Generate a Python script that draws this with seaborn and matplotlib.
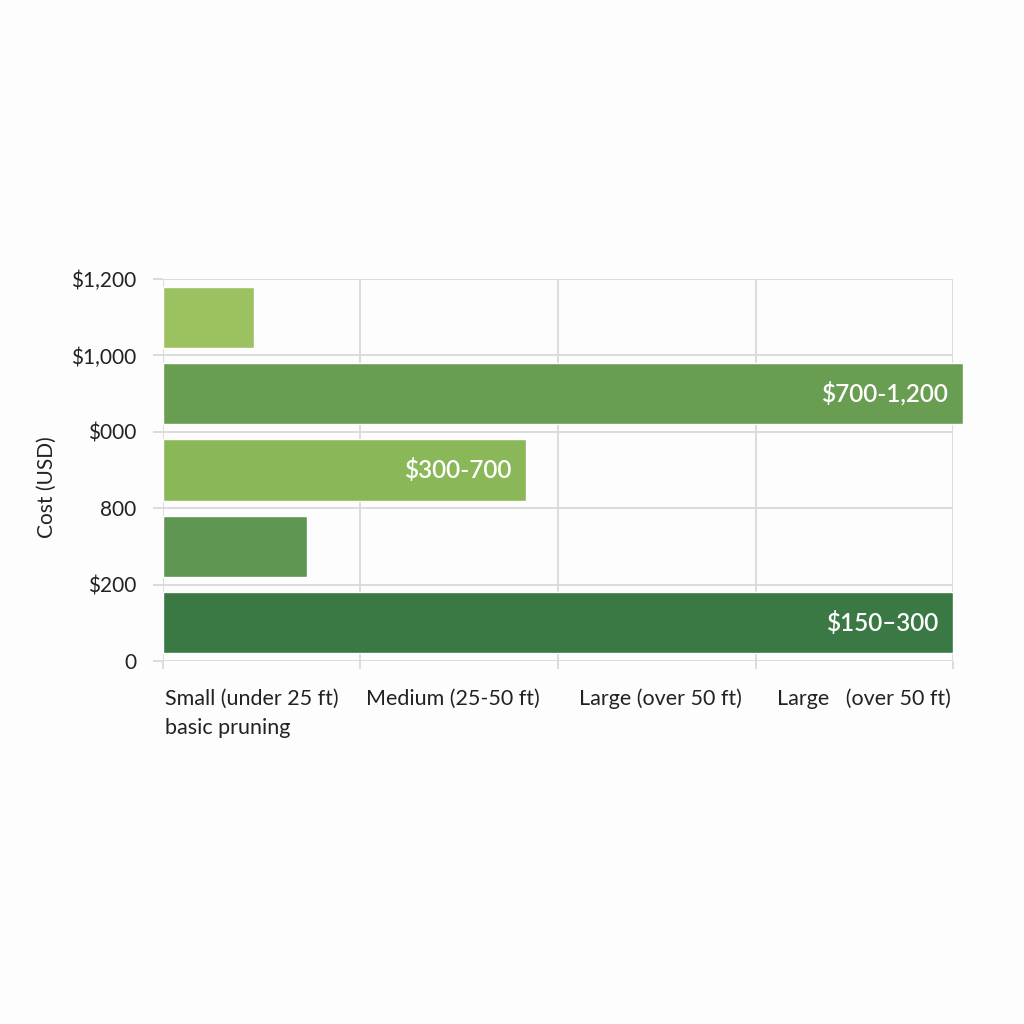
import matplotlib
matplotlib.use("Agg")
import matplotlib.pyplot as plt
import seaborn as sns
import pandas as pd

# bars, bottom to top
bar_ids = ["b1", "b2", "b3", "b4", "b5"]
bar_pos = [0.5, 1.5, 2.5, 3.5, 4.5]
bar_len = [4.0, 0.73, 1.84, 4.05, 0.46]
bar_text = ["$150\u2013300", "", "$300-700", "$700-1,200", ""]
bar_colors = ["#3a7844", "#5e9651", "#8ab757", "#699d52", "#9bc161"]

y_ticklabels = ["0", "$200", "800", "$000", "$1,000", "$1,200"]
x_labels = ["Small (under 25 ft)\nbasic pruning", "Medium (25-50 ft)",
            "Large (over 50 ft)", "Large   (over 50 ft)"]

df = pd.DataFrame({"id": bar_ids, "pos": bar_pos, "len": bar_len})

sns.set_theme(style="white")
plt.rcParams["font.family"] = ["Lato", "DejaVu Sans"]

fig = plt.figure(figsize=(10.24, 10.24), dpi=100)
fig.patch.set_facecolor("#fdfdfd")
ax = fig.add_axes([0.159, 0.3545, 0.772, 0.373])
ax.set_facecolor("#fdfdfd")

sns.barplot(data=df, x="len", y="pos", hue="id", orient="h", native_scale=True,
            palette=dict(zip(bar_ids, bar_colors)), width=0.8, saturation=1,
            errorbar=None, legend=False, ax=ax)

for p in ax.patches:
    p.set_clip_on(False)
    p.set_zorder(3)

for y, w, t in zip(bar_pos, bar_len, bar_text):
    if t:
        ax.annotate(t, xy=(w, y), xytext=(-10, 0), textcoords="offset points",
                    ha="right", va="center", color="white", fontsize=17.5,
                    fontweight="semibold", zorder=4, annotation_clip=False)

ax.set_xlim(0, 4)
ax.set_ylim(0, 5)
ax.set_yticks(range(6))
ax.set_yticklabels(y_ticklabels, fontsize=15, color="#222222")
ax.set_xticks(range(5))
ax.set_xticklabels([""] * 5)
ax.set_xticks([0.45, 1.47, 2.52, 3.55], minor=True)
ax.set_xticklabels(x_labels, minor=True, fontsize=15.5, color="#222222",
                   multialignment="left", linespacing=1.6)
ax.tick_params(axis="y", which="major", length=7, width=1.2, color="#d6d6d6",
               pad=12, left=True)
ax.tick_params(axis="x", which="major", length=6, width=1.2, color="#d6d6d6",
               bottom=True)
ax.tick_params(axis="x", which="minor", length=0, pad=20)

ax.grid(True, color="#d9d9d9", linewidth=1.3, zorder=0)
ax.set_axisbelow(True)
for s in ax.spines.values():
    s.set_visible(False)

ax.set_xlabel("")
ax.set_ylabel("Cost (USD)", fontsize=15, color="#222222")
ax.yaxis.set_label_coords(-0.134, 0.455)

fig.savefig("out.png", dpi=100, facecolor=fig.get_facecolor())
